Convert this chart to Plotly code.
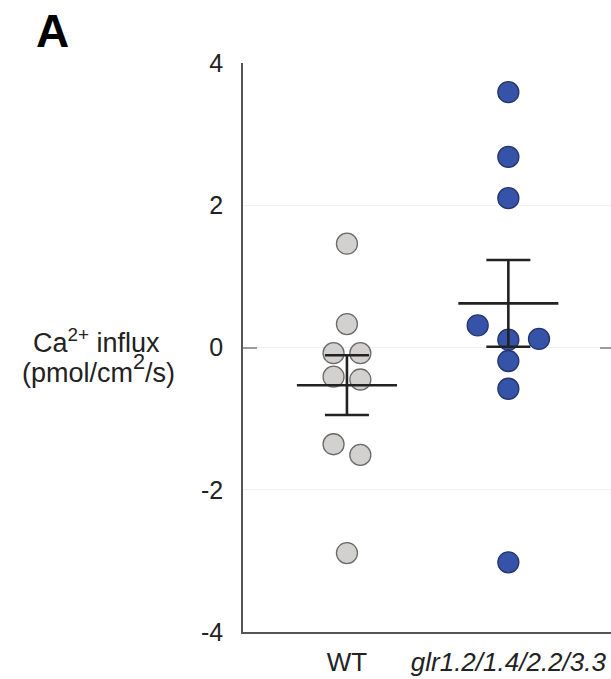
import plotly.graph_objects as go

# ---- data ----
categories = ["WT", "glr1.2/1.4/2.2/3.3"]
tick_labels = ["WT", "<i>glr1.2/1.4/2.2/3.3</i>"]

wt_values = [1.46, 0.33, -0.08, -0.08, -0.41, -0.45, -1.36, -1.51, -2.89]
wt_jitter = [0.0, 0.0, -0.083, 0.083, -0.083, 0.083, -0.083, 0.083, 0.0]

glr_values = [3.59, 2.68, 2.10, 0.31, 0.11, 0.12, -0.19, -0.58, -3.02]
glr_jitter = [0.0, 0.0, 0.0, -0.19, 0.0, 0.19, 0.0, 0.0, 0.0]

group_means = [-0.53, 0.62]
group_sem = [0.42, 0.61]

y_ticks = [-4, -2, 0, 2, 4]
y_tick_labels = ["-4", "-2", "0", "2", "4"]

FONT = "Liberation Sans, Arial, Helvetica, sans-serif"
INK = "#222222"

W, H = 611, 679
ML, MR, MT, MB = 243, 0, 63, 47
pw, ph = W - ML - MR, H - MT - MB

fig = go.Figure()

point_styles = [
    dict(color="#d3d1cf", line=dict(color="#6a6a6a", width=1.3)),
    dict(color="#3553a8", line=dict(color="#27346b", width=1.3)),
]
for i, (vals, jit) in enumerate([(wt_values, wt_jitter), (glr_values, glr_jitter)]):
    fig.add_trace(go.Scatter(
        x=[i + j for j in jit], y=vals, mode="markers",
        marker=dict(size=21, **point_styles[i]),
        showlegend=False, hoverinfo="y",
    ))

# mean lines
half = 0.31
for i, m in enumerate(group_means):
    fig.add_trace(go.Scatter(
        x=[i - half, i + half], y=[m, m], mode="lines",
        line=dict(color=INK, width=2.6), showlegend=False, hoverinfo="skip",
    ))

# SEM error bars
fig.add_trace(go.Scatter(
    x=[0, 1], y=group_means, mode="markers",
    marker=dict(size=1, color="rgba(0,0,0,0)"),
    error_y=dict(type="data", array=group_sem, color=INK, thickness=2.6, width=22),
    showlegend=False, hoverinfo="skip",
))

# invisible traces to activate the helper axes carrying the zero ticks
fig.add_trace(go.Scatter(x=[None], y=[None], yaxis="y2", showlegend=False, hoverinfo="skip"))
fig.add_trace(go.Scatter(x=[None], y=[None], yaxis="y3", showlegend=False, hoverinfo="skip"))

fig.update_layout(
    width=W, height=H,
    margin=dict(l=ML, r=MR, t=MT, b=MB, pad=0),
    plot_bgcolor="white", paper_bgcolor="white",
    font=dict(family=FONT, size=25, color=INK),
    xaxis=dict(
        range=[-0.644, 1.636], tickmode="array", tickvals=[0, 1], ticktext=tick_labels,
        showgrid=False, zeroline=False, showline=True, linecolor="#555555", linewidth=1.6,
        ticks="", ticklabelstandoff=6, tickfont=dict(size=26, color=INK), fixedrange=True,
    ),
    yaxis=dict(
        range=[-4, 4], tickmode="array", tickvals=y_ticks, ticktext=y_tick_labels,
        showgrid=True, gridcolor="#f0f0f0", gridwidth=1, zeroline=False,
        showline=True, linecolor="#555555", linewidth=1.6,
        ticks="", ticklabelstandoff=13, tickfont=dict(size=25, color=INK), fixedrange=True,
    ),
    yaxis2=dict(
        overlaying="y", side="left", range=[-4, 4], tickmode="array", tickvals=[0],
        showticklabels=False, ticks="inside", ticklen=14, tickcolor="#9a9a9a", tickwidth=1.6,
        showgrid=False, zeroline=False, showline=False, fixedrange=True,
    ),
    yaxis3=dict(
        overlaying="y", side="right", range=[-4, 4], tickmode="array", tickvals=[0],
        showticklabels=False, ticks="inside", ticklen=11, tickcolor="#9a9a9a", tickwidth=1.6,
        showgrid=False, zeroline=False, showline=False, fixedrange=True,
    ),
)

def px_x(x):
    return (x - ML) / pw

def px_y(y):
    return (H - MB - y) / ph

fig.add_annotation(text="<b>A</b>", xref="paper", yref="paper",
                   x=px_x(34), y=px_y(31),
                   showarrow=False, font=dict(size=46, color="black", family=FONT),
                   xanchor="left", yanchor="middle")
fig.add_annotation(text="Ca<sup>2+</sup> influx", xref="paper", yref="paper",
                   x=px_x(96), y=px_y(341),
                   showarrow=False, font=dict(size=27, color=INK, family=FONT),
                   xanchor="center", yanchor="middle")
fig.add_annotation(text="(pmol/cm<span style=\"font-size:31px\"><sup>2</sup></span>/s)",
                   xref="paper", yref="paper",
                   x=px_x(98), y=px_y(368),
                   showarrow=False, font=dict(size=27, color=INK, family=FONT),
                   xanchor="center", yanchor="middle")

fig.write_html("out.html", config={"displayModeBar": False},
               post_script="document.body.style.margin='0';")
